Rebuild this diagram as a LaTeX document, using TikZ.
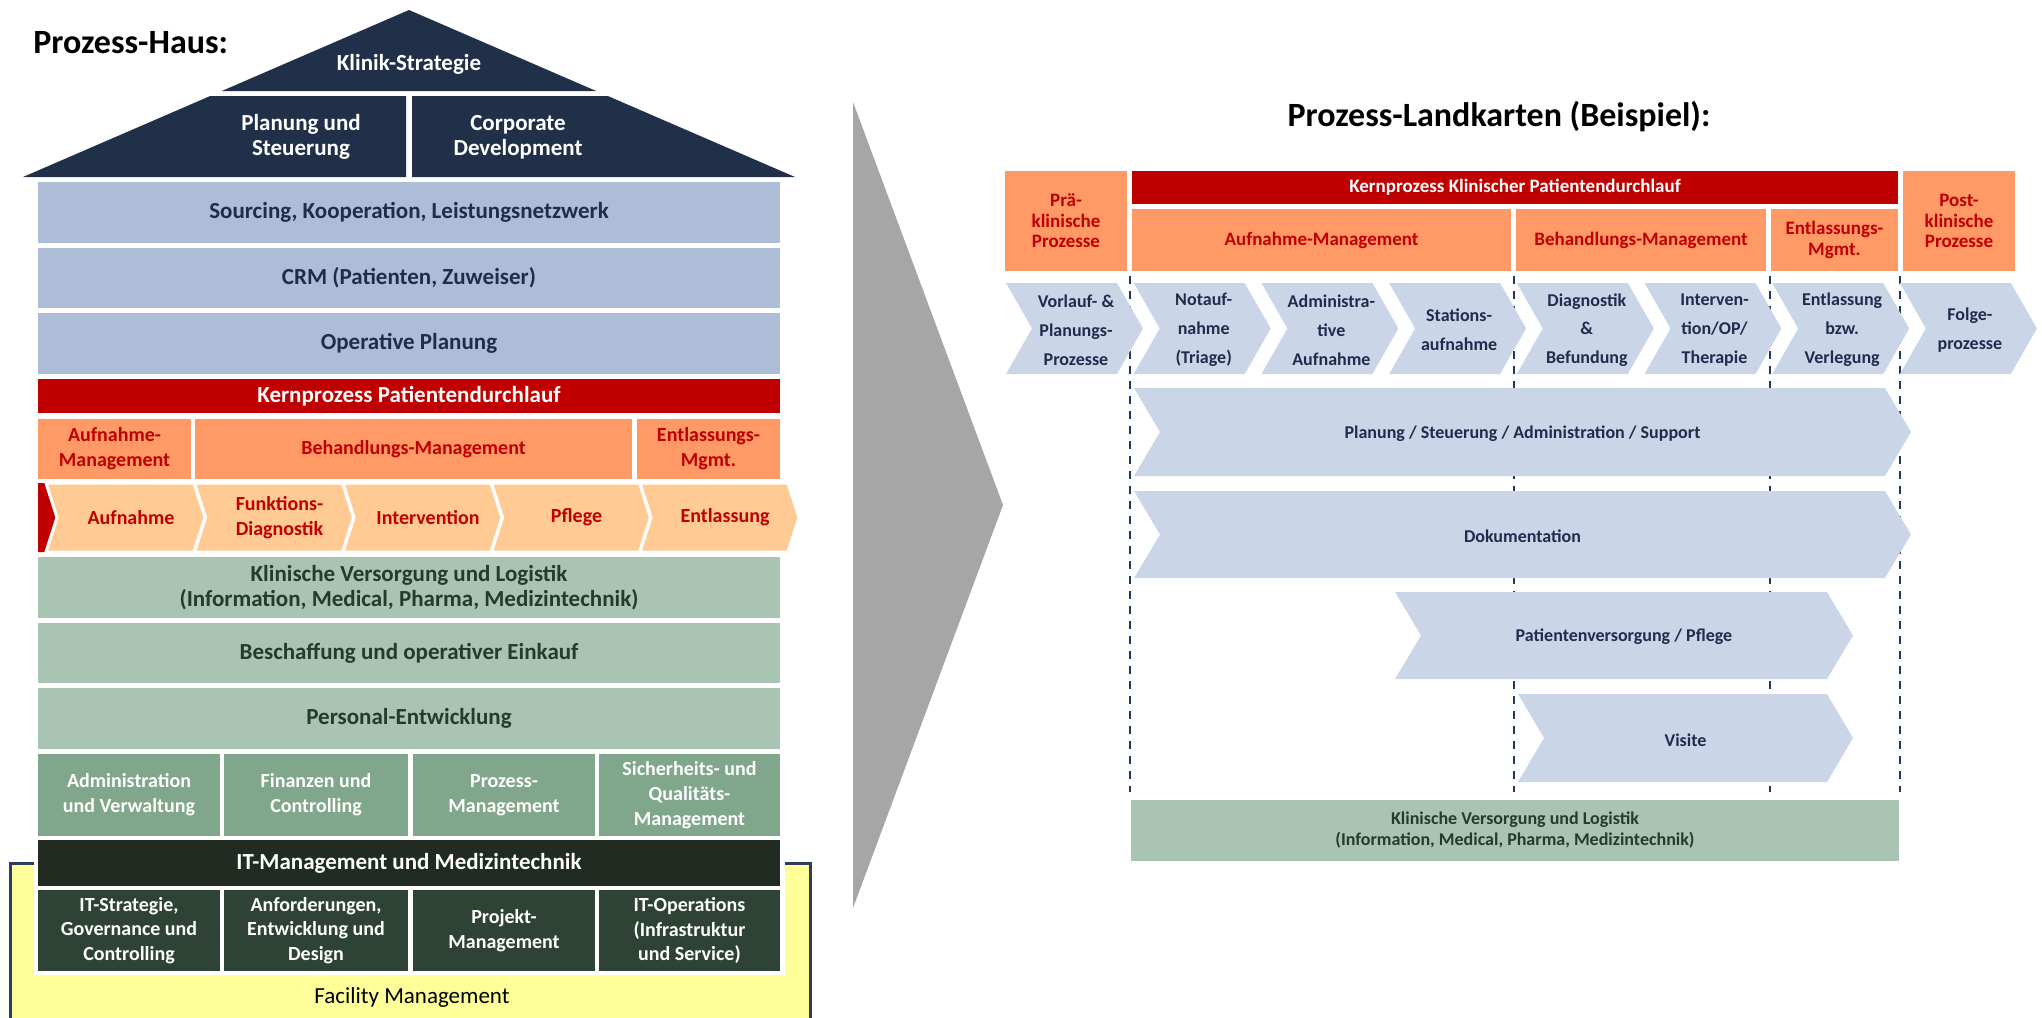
\documentclass[tikz,border=0pt]{standalone}
\usepackage{fontspec}
\setmainfont{Carlito}
\usepackage{tikz}
\usetikzlibrary{positioning}

\definecolor{roofnavy}{HTML}{213049}
\definecolor{layerblue}{HTML}{ADBCD7}
\definecolor{paleblue}{HTML}{CAD5E8}
\definecolor{textnavy}{HTML}{1F2D4D}
\definecolor{kernred}{HTML}{C00000}
\definecolor{mgmtorange}{HTML}{FF9966}
\definecolor{steporange}{HTML}{FFCA94}
\definecolor{layergreen}{HTML}{A9C4B2}
\definecolor{textgreen}{HTML}{253B2D}
\definecolor{midgreen}{HTML}{80A68B}
\definecolor{itblack}{HTML}{212B22}
\definecolor{itgreen}{HTML}{2E4336}
\definecolor{facyellow}{HTML}{FFFF99}
\definecolor{facborder}{HTML}{2E3D5C}
\definecolor{arrowgray}{HTML}{A6A6A6}
\definecolor{guidenavy}{HTML}{203864}

\begin{document}
\begin{tikzpicture}[x=0.5pt,y=-0.5pt,
    area/.style args={#1/#2/#3/#4}{minimum width={(#3-#1)*0.5pt},minimum height={(#4-#2)*0.5pt},at={({(#1+#3)/2},{(#2+#4)/2})}},
    box/.style={inner sep=0pt,align=center,font=\fontsize{11.5}{12.4}\selectfont\bfseries},
    rooftext/.style={align=center,text=white,font=\fontsize{11.5}{12.6}\selectfont\bfseries},
    bluerow/.style={box,fill=layerblue,text=textnavy},
    kernbar/.style={box,fill=kernred,text=white},
    mgmtbox/.style={box,fill=mgmtorange,text=kernred,font=\fontsize{10}{12.4}\selectfont\bfseries},
    hausstep/.style={align=center,text=kernred,font=\fontsize{10}{12.4}\selectfont\bfseries},
    greenrow/.style={box,fill=layergreen,text=textgreen},
    supportbox/.style={box,fill=midgreen,text=white,font=\fontsize{10}{12.4}\selectfont\bfseries},
    itbar/.style={box,fill=itblack,text=white},
    itbox/.style={box,fill=itgreen,text=white,font=\fontsize{10}{12.4}\selectfont\bfseries},
    title/.style={inner sep=0pt,font=\fontsize{17}{20}\selectfont\bfseries},
    mapmgmt/.style={box,fill=mgmtorange,text=kernred,font=\fontsize{9.5}{10.2}\selectfont\bfseries},
    mapkern/.style={box,fill=kernred,text=white,font=\fontsize{9.5}{11}\selectfont\bfseries},
    mapstep/.style={align=center,text=textnavy,font=\fontsize{9}{14.4}\selectfont\bfseries},
    mapbar/.style={align=center,text=textnavy,font=\fontsize{9}{11}\selectfont\bfseries},
    mapgreen/.style={box,fill=layergreen,text=textgreen,font=\fontsize{9}{10.5}\selectfont\bfseries},
    guide/.style={guidenavy,line width=1pt,dash pattern=on 4pt off 3.5pt}]

    \useasboundingbox (0,0) rectangle (2042,1018);

    % Prozess-Haus
    \node[title,anchor=west] (haustitle) at (33,43) {Prozess-Haus:};

    % roof
    \fill[roofnavy] (409,10) -- (596.2,91) -- (221.8,91) -- cycle;
    \fill[roofnavy] (210.2,96) -- (406,96) -- (406,177) -- (23,177) -- cycle;
    \fill[roofnavy] (412,96) -- (607.8,96) -- (795,177) -- (412,177) -- cycle;
    \node[rooftext] (strategie) at (409,64) {Klinik-Strategie};
    \node[rooftext] (planung) at (301,137) {Planung und\\Steuerung};
    \node[rooftext] (corporate) at (518,137) {Corporate\\Development};

    % management layers
    \node[bluerow,area=38/182/780/243] (sourcing) {Sourcing, Kooperation, Leistungsnetzwerk};
    \node[bluerow,area=38/248/780/308] (crm) {CRM (Patienten, Zuweiser)};
    \node[bluerow,area=38/313/780/374] (opplan) {Operative Planung};

    % core process
    \node[kernbar,area=38/379/780/413] (hauskern) {Kernprozess Patientendurchlauf};
    \node[mgmtbox,area=38/419/191/479] (hausaufn) {Aufnahme-\\Management};
    \node[mgmtbox,area=195/419/632/479] (hausbeh) {Behandlungs-Management};
    \node[mgmtbox,area=637/419/780/479] (hausentl) {Entlassungs-\\Mgmt.};

    \fill[kernred] (38,483) -- (45,483) -- (56,517.5) -- (45,552) -- (38,552) -- cycle;
    \foreach \txt [count=\i from 0] in {Aufnahme,{Funktions-\\Diagnostik},Intervention,Pflege,Entlassung} {
        \pgfmathsetmacro{\lx}{46+148.5*\i}
        \filldraw[fill=steporange,draw=white,line width=1.5pt] (\lx,483) -- ++(148,0) -- ++(11,34.5) -- ++(-11,34.5) -- ++(-148,0) -- ++(11,-34.5) -- cycle;
        \node[hausstep] (hstep\i) at (\lx+85,517.5) {\txt};
    }

    % support layers
    \node[greenrow,area=38/557/780/618] (logistik) {Klinische Versorgung und Logistik\\(Information, Medical, Pharma, Medizintechnik)};
    \node[greenrow,area=38/623/780/683] (einkauf) {Beschaffung und operativer Einkauf};
    \node[greenrow,area=38/688/780/749] (personal) {Personal-Entwicklung};

    \node[supportbox,area=38/754/220/836] (admin) {Administration\\und Verwaltung};
    \node[supportbox,area=224/754/408/836] (finanzen) {Finanzen und\\Controlling};
    \node[supportbox,area=413/754/595/836] (prozessmgmt) {Prozess-\\Management};
    \node[supportbox,area=599/754/780/836] (qualitaet) {Sicherheits- und\\Qualitäts-\\Management};

    % facility management and IT
    \fill[facyellow] (9,862) rectangle (812,1018);
    \draw[facborder,line width=1.5pt] (10.5,1018) -- (10.5,863.5) -- (810.5,863.5) -- (810.5,1018);
    \fill[white] (34,850) rectangle (785,975);
    \node[font=\fontsize{11.5}{12}\selectfont] (facility) at (412,997) {Facility Management};

    \node[itbar,area=38/840/780/886] (itmgmt) {IT-Management und Medizintechnik};
    \node[itbox,area=38/890/220/971] (itstrat) {IT-Strategie,\\Governance und\\Controlling};
    \node[itbox,area=224/890/408/971] (itanf) {Anforderungen,\\Entwicklung und\\Design};
    \node[itbox,area=413/890/595/971] (itprojekt) {Projekt-\\Management};
    \node[itbox,area=599/890/780/971] (itops) {IT-Operations\\(Infrastruktur\\und Service)};

    % transition arrow
    \fill[arrowgray] (853,102) -- (1003,505) -- (853,908) -- cycle;

    % Prozess-Landkarten
    \node[title] (maptitle) at (1499,117) {Prozess-Landkarten (Beispiel):};

    \node[mapmgmt,area=1005/171/1127/271] (praeklin) {Prä-\\klinische\\Prozesse};
    \node[mapkern,area=1132/171/1898/204] (mapkern) {Kernprozess Klinischer Patientendurchlauf};
    \node[mapmgmt,area=1132/209/1511/271] (mapaufn) {Aufnahme-Management};
    \node[mapmgmt,area=1516/209/1766/271] (mapbeh) {Behandlungs-Management};
    \node[mapmgmt,area=1771/209/1898/271] (mapentl) {Entlassungs-\\Mgmt.};
    \node[mapmgmt,area=1903/171/2015/271] (postklin) {Post-\\klinische\\Prozesse};

    \foreach \dx in {1130,1514,1770,1900}
        \draw[guide] (\dx,276) -- (\dx,792);

    \foreach \txt [count=\j from 0] in {{Vorlauf- \&\\Planungs-\\Prozesse},{Notauf-\\nahme\\(Triage)},{Administra-\\tive\\Aufnahme},{Stations-\\aufnahme},{Diagnostik\\\&\\Befundung},{Interven-\\tion/OP/\\Therapie},{Entlassung\\bzw.\\Verlegung},{Folge-\\prozesse}} {
        \pgfmathsetmacro{\lx}{1006+127.7*\j}
        \fill[paleblue] (\lx,283) -- ++(111,0) -- ++(26,45.5) -- ++(-26,45.5) -- ++(-111,0) -- ++(26,-45.5) -- cycle;
        \node[mapstep] (mstep\j) at (\lx+70,330) {\txt};
    }

    \foreach \lx/\rx/\ty/\by in {1134/1911/388/476,1134/1911/491/578,1395/1853/592/679,1518/1853/694/782}
        \fill[paleblue] (\lx,\ty) -- (\rx-26,\ty) -- (\rx,{(\ty+\by)/2}) -- (\rx-26,\by) -- (\lx,\by) -- (\lx+26,{(\ty+\by)/2}) -- cycle;
    \node[mapbar] (planbar) at (1522.5,434) {Planung / Steuerung / Administration / Support};
    \node[mapbar] (dokubar) at (1522.5,536) {Dokumentation};
    \node[mapbar] (pflegebar) at (1624,637) {Patientenversorgung / Pflege};
    \node[mapbar] (visitebar) at (1685.5,740) {Visite};

    \node[mapgreen,area=1131/800/1899/861] (maplogistik) {Klinische Versorgung und Logistik\\(Information, Medical, Pharma, Medizintechnik)};
\end{tikzpicture}
\end{document}
